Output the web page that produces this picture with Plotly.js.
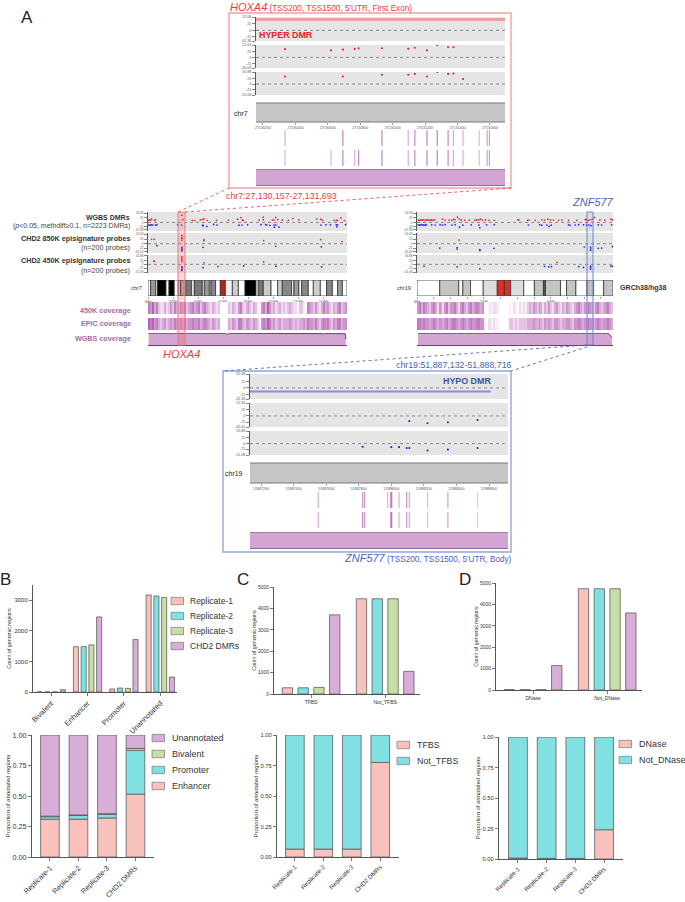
<!DOCTYPE html>
<html><head><meta charset="utf-8">
<script src="https://cdn.plot.ly/plotly-3.0.1.min.js"></script>
<style>html,body{margin:0;padding:0;background:#fff}</style></head>
<body><div id="chart" style="width:685px;height:902px"></div>
<script>
// ---- bar panel data ----
const replicates = ['Replicate-1','Replicate-2','Replicate-3','CHD2 DMRs'];
const bGroups = ['Bivalent','Enhancer','Promoter','Unannotated'];
const bCountR1 = [2,1480,100,3175];
const bCountR2 = [2,1485,130,3140];
const bCountR3 = [2,1540,120,3095];
const bCountCHD2 = [75,2455,1715,490];
const bEnhancer = [0.31,0.31,0.32,0.515];
const bPromoter = [0.02,0.03,0.03,0.36];
const bBivalent = [0.005,0.005,0.005,0.015];
const bUnannotated = [0.665,0.655,0.645,0.11];
const cGroups = ['TFBS','Not_TFBS'];
const cCountR1 = [290,4450];
const cCountR2 = [290,4450];
const cCountR3 = [310,4450];
const cCountCHD2 = [3700,1060];
const cTfbs = [0.065,0.065,0.065,0.775];
const cNotTfbs = [0.935,0.935,0.935,0.225];
const dGroups = ['DNase','Not_DNase'];
const dCountR1 = [20,4730];
const dCountR2 = [15,4730];
const dCountR3 = [15,4730];
const dCountCHD2 = [1140,3600];
const dDnase = [0.008,0.005,0.005,0.24];
const dNotDnase = [0.992,0.995,0.995,0.76];

// ---- genome-wide tracks (Mb, methylation difference) ----
const chr7WgbsRedPos = [0.3,1.3,2.1,2.9,5,6.1,26.9,27.7,35.4,37.5,41.8,43.7,44.7,47.4,54.8,64.2,71.6,74.3,75.4,76.2,88.7,92.1,92.2,99.3,100.6,102,103.6,107.3,112.1,115.8,120.6,134.7,137.9,139.3,148.6,150.4,151.5,154.2,156.8];
const chr7WgbsRedVal = [12,15,12,20,13,13,40,16,12,11,14,17,20,12,12,12,18,27,13,11,13,30,16,13,13,28,16,13,12,22,14,20,18,12,12,12,12,25,11];
const chr7WgbsBluePos = [0.8,1.8,2.9,4,6.1,7.2,23.7,26.9,43.7,44.2,47.1,52.4,55.1,72.7,75.1,79.6,90.3,94,95,97.4,100.6,100.9,102.2,104.6,138.2,142.2,145.7,150.4,150.9,151.5,157.9];
const chr7WgbsBlueVal = [-15,-15,-13,-14,-15,-12,-12,-14,-15,-19,-22,-11,-14,-15,-14,-13,-12,-12,-14,-16,-14,-26,-14,-26,-14,-13,-13,-13,-24,-13,-12];
const chr7P850RedPos = [2.9,5,27.1,27.1,27.1,27.1,44.7,44.7,92.4,137.9,155];
const chr7P850RedVal = [24,24,45,35,28,20,17,22,17,22,12];
const chr7P850BluePos = [7.2,27.1,27.1,27.1,27.1,43.9,102,138.5];
const chr7P850BlueVal = [-11,-20,-28,-33,-40,-20,-14,-17];
const chr7P450RedPos = [4.8,4.8,27.1,27.1,27.1,27.1,44.7,92.4];
const chr7P450RedVal = [24,19,50,40,30,19,10,17];
const chr7P450BluePos = [27.1,27.1,27.1,27.1,43.9,55.9,76.4,102.2,138.7];
const chr7P450BlueVal = [-17,-24,-33,-41,-22,-14,-10,-12,-17];

const chr19WgbsRedPos = [0.4,0.8,1.2,1.6,2,2.4,2.8,3.2,3.6,4,4.4,4.8,5.2,7.6,8.4,9.6,10.4,10.9,11.4,12.1,12.6,13.2,14.2,15.6,17.3,17.8,18.3,18.9,19.5,20.5,21.5,23.1,30.1,30.5,33.1,33.5,35.3,37.3,38.1,39.1,39.9,40.8,42.3,43.3,45.3,47.8,50.3,50.7,51.2,51.8,52.4,53,54.7,56.2,58,58.4];
const chr19WgbsRedVal = [13,12,14,13,15,12,13,16,12,14,13,12,15,18,12,13,12,17,15,30,20,14,12,13,12,14,15,18,13,14,12,12,16,13,12,13,12,15,13,18,14,13,12,13,12,12,17,14,12,15,18,28,14,13,18,14];
const chr19WgbsBluePos = [0.4,0.8,1.2,1.6,2,2.4,2.8,4.4,5.4,6.9,7.6,8.4,10.4,11.4,12.7,13.7,16.2,18.5,18.8,20.8,23.1,33.3,36.7,37.3,38.8,39.5,40.1,45.3,45.8,47.3,48.3,49.8,50.7,51.4,52,54.2,55.2,58.2];
const chr19WgbsBlueVal = [-13,-15,-12,-14,-13,-15,-12,-13,-14,-12,-14,-12,-14,-13,-26,-15,-13,-14,-30,-13,-12,-14,-13,-15,-14,-22,-15,-13,-16,-14,-12,-13,-15,-14,-18,-13,-14,-13];
const chr19P850RedPos = [12.6];
const chr19P850RedVal = [20];
const chr19P850BluePos = [6.8,12,12,18.8,18.8,23,50,51.9,51.9,51.9,54.2,55.2,58.4];
const chr19P850BlueVal = [-24,-22,-29,-33,-38,-25,-18,-20,-29,-36,-25,-24,-16];
const chr19P450RedPos = [41.8];
const chr19P450RedVal = [13];
const chr19P450BluePos = [2.1,12,18.8,38.1,39.4,40.2,48.4,49.8,51.9,51.9,51.9,58,58.4];
const chr19P450BlueVal = [-13,-15,-29,-13,-16,-15,-15,-20,-11,-22,-31,-11,-13];

// ---- ideograms ----
const chr7BandEdges = [0,2.1,6.1,7.5,14.4,16.8,21,24.2,26.1,30.1,34.9,37,43.4,45,49,50.3,54,57.8,61.8,67.4,72.2,77.5,86.3,88.1,92.1,98.3,103.6,107.3,114.8,116.6,120.6,122.8,128.1,132.1,137.7,142.7,147.3,151.5,155.3,159];
const chr7BandColors = ['#ffffff','#999999','#ffffff','#000000','#ffffff','#000000','#ffffff','#cccccc','#aaaaaa','#777777','#ffffff','#777777','#ffffff','#999999','#ffffff','#888888','#ffffff','#c0201a','#f0f0f0','#cccccc','#ffffff','#000000','#ffffff','#777777','#cccccc','#ffffff','#cccccc','#888888','#ffffff','#999999','#ffffff','#888888','#ffffff','#cccccc','#ffffff','#888888','#ffffff','#999999','#ffffff'];
const chr19BandEdges = [0,6.8,12.5,13.7,16,19.8,24,26.1,28,31.9,35.1,37.8,38.4,42.9,44.7,47.5,50.8,52.8,55.8,58.6];
const chr19BandColors = ['#ffffff','#c4c4c4','#ffffff','#c4c4c4','#ffffff','#dddddd','#d9302a','#d9302a','#dddddd','#ffffff','#c4c4c4','#555555','#c4c4c4','#ffffff','#c4c4c4','#ffffff','#c4c4c4','#ffffff','#c4c4c4'];
const chr7TickVals = [0,20,40,60,80,100,120,140];
const chr7TickText = ['0Mb','20Mb','40Mb','60Mb','80Mb','100Mb','120Mb','140Mb'];
const chr19TickVals = [0,5,10,15,20,25,30,35,40,45,50,55];
const chr19TickText = ['0Mb','','','','20Mb','','','','40Mb','','',''];

// ---- probe coverage per chromosome bin ----
const chr7Cov450 = [6,5,7,4,6,3,2,2,4,2,3,5,3,6,4,3,5,4,6,3,4,5,6,4,5,6,3,5,6,4,3,2,4,3,2,3,0,0,0,0,3,2,4,3,2,5,6,3,2,4,5,3,2,4,3,1,0,5,6,4,7,5,3,4,2,3,4,2,3,2,3,4,3,2,2,0,3,3,1,0,6,5,4,3,5,3,2,4,6,4,5,3,2,4,3,5,6,3,4,5];
const chr7CovEpic = [7,6,7,5,6,4,3,4,5,3,4,5,4,6,5,4,5,4,6,4,5,5,6,5,5,6,4,5,6,5,4,3,5,4,3,4,0,0,0,0,4,3,5,4,3,6,6,4,3,5,5,4,3,5,4,3,0,5,6,5,7,6,4,5,3,4,5,3,4,4,4,5,4,3,4,3,4,4,5,4,6,5,5,4,6,4,3,5,6,5,6,4,3,5,4,6,6,4,5,5];
const chr19Cov450 = [5,6,4,6,5,4,3,5,6,4,2,5,4,2,5,6,3,5,5,6,4,2,5,6,4,3,5,6,4,5,6,5,4,5,0,0,1,2,1,2,2,1,0,0,0,0,0,1,0,2,1,0,2,1,2,1,3,4,3,5,4,3,5,4,2,4,3,5,3,2,4,5,3,2,4,3,5,4,3,2,4,5,6,4,3,5,4,6,5,4,3,5,6,4,3,4,5,6,4,3];
const chr19CovEpic = [6,6,5,6,5,5,4,5,6,5,4,5,5,4,5,6,4,5,6,6,5,4,5,6,5,4,5,6,5,5,6,6,5,5,1,0,2,2,1,2,1,1,0,0,0,0,0,3,3,2,3,2,3,3,3,3,4,4,4,5,4,4,5,4,3,5,4,5,4,3,5,5,4,3,4,4,5,5,4,3,5,5,6,5,4,5,5,6,5,5,4,5,6,5,4,5,5,6,5,4];
const chr7WgbsCovPos = [0.5,62,63.5,65,139,140,141,157.6,158.1];
const chr7WgbsCovVal = [100,99,90,99,97,93,97,96,50];
const chr19WgbsCovPos = [0.3,24,25,26,57.1,58.3];
const chr19WgbsCovVal = [100,100,98,100,100,66];

// ---- zoomed HOXA4 region ----
const hoxaStart = 27130157, hoxaEnd = 27131693;
const hoxaTicks = [27130200,27130400,27130600,27130800,27131000,27131200,27131400,27131600];
const hoxaDmrVal = [42,42];
const hoxaP850Pos = [27130336,27130620,27130693,27130766,27130790,27130934,27131096,27131137,27131212,27131275,27131342,27131375];
const hoxaP850Val = [35,30,33,36,39,39,37,41,30,52,43,43];
const hoxaP450Pos = [27130336,27130693,27130934,27131096,27131137,27131212,27131275,27131342,27131375,27131434];
const hoxaP450Val = [35,35,43,43,47,35,56,47,49,23];
const hoxa450Probes = [27130336,27130693,27130934,27131096,27131137,27131212,27131275,27131342,27131375,27131434,27131534,27131583,27131597];
const hoxa450Shade = [0.6,0.9,0.9,0.6,0.9,0.9,0.9,0.9,0.6,0.6,0.5,0.7,0.7];
const hoxaEpicProbes = [27130336,27130620,27130693,27130766,27130790,27130934,27131096,27131137,27131212,27131275,27131342,27131375,27131434,27131534,27131583,27131597];
const hoxaEpicShade = [0.5,0.5,0.9,0.6,0.9,0.9,0.6,0.9,0.9,0.9,0.9,0.6,0.6,0.5,0.7,0.7];

// ---- zoomed ZNF577 region ----
const znfStart = 51887132, znfEnd = 51888716;
const znfTicks = [51887200,51887400,51887600,51887800,51888000,51888200,51888400,51888600];
const znfDmrPos = [51887132,51888611];
const znfDmrVal = [-13,-13];
const znfP850Pos = [51888110,51888222,51888347,51888529];
const znfP850Val = [-21,-30,-26,-17];
const znfP450Pos = [51887824,51888000,51888047,51888094,51888110,51888222,51888347,51888529];
const znfP450Val = [-14,-16,-16,-20,-20,-31,-27,-20];
const znf450Probes = [51887551,51887824,51887836,51887977,51887997,51888002,51888047,51888094,51888110,51888222,51888347,51888529];
const znf450Shade = [0.6,0.8,0.8,0.5,1,1,0.6,0.8,0.6,0.5,0.7,0.4];
const znfEpicProbes = [51887551,51887824,51887836,51887997,51888002,51888047,51888094,51888110,51888222,51888347,51888529];
const znfEpicShade = [0.6,0.9,0.8,1,1,0.6,0.8,0.6,0.5,0.7,0.4];

// ---- helpers ----
const W=685,H=902,FONT='"Liberation Sans", Arial, sans-serif';
const PINK='#f9c1bc',TEAL='#80e0e2',GREEN='#c9dea5',PURP='#d8aed8',EDGE='rgba(85,85,85,0.75)';
const RED='#e8202a',BLUE='#2222ee',HRED='#ee3a44',HBLUE='#4a62b0';
const data=[],shapes=[],annotations=[],layout={};
let n=0;
function panel(x0,y0,x1,y1,xopt,yopt){
  n++; const s=n===1?'':n;
  layout['xaxis'+s]=Object.assign({domain:[x0/W,x1/W],anchor:'y'+s,fixedrange:true,showgrid:false,zeroline:false},xopt);
  layout['yaxis'+s]=Object.assign({domain:[1-y1/H,1-y0/H],anchor:'x'+s,fixedrange:true,showgrid:false,zeroline:false},yopt);
  return {x:'x'+s,y:'y'+s};
}
function txt(x,y,text,size,color,anchor,extra){
  annotations.push(Object.assign({xref:'paper',yref:'paper',x:x/W,y:1-y/H,text,showarrow:false,xanchor:anchor||'left',yanchor:'middle',borderpad:0,font:{family:FONT,size,color:color||'#222'}},extra||{}));
}
function rectPx(x0,y0,x1,y1,line,fill,lw,layer){
  shapes.push({type:'rect',xref:'paper',yref:'paper',x0:x0/W,x1:x1/W,y0:1-y0/H,y1:1-y1/H,line:{color:line,width:lw===undefined?1:lw},fillcolor:fill||'rgba(0,0,0,0)',layer:layer||'above'});
}
function linePx(x0,y0,x1,y1,color,width,dash){
  shapes.push({type:'line',xref:'paper',yref:'paper',x0:x0/W,x1:x1/W,y0:1-y0/H,y1:1-y1/H,line:{color,width,dash:dash||'solid'}});
}
function track(box,xr,ymin,ymax,labels,series,pad,fs,ms){
  const p=pad||0;
  const a=panel(box[0],box[1],box[2],box[3],{visible:false,range:xr},
    {range:[ymin-p,ymax+p],tickmode:'array',tickvals:[ymax,25,0,-25,ymin],ticktext:labels,showline:true,linecolor:'#555',linewidth:1,ticks:'outside',ticklen:3,tickwidth:0.7,tickcolor:'#555',tickfont:{family:FONT,size:fs||3.6,color:'#555'}});
  shapes.push({type:'rect',xref:a.x+' domain',yref:a.y+' domain',x0:0,x1:1,y0:0,y1:1,fillcolor:'#e5e5e5',line:{width:0},layer:'below'});
  shapes.push({type:'line',xref:a.x+' domain',yref:a.y,x0:0,x1:1,y0:0,y1:0,line:{color:'#666',width:0.7,dash:'dot'},layer:'below'});
  series.forEach(s=>{
    if(s.line) data.push({type:'scatter',mode:'lines',name:s.name,x:s.x,y:s.y,xaxis:a.x,yaxis:a.y,line:{color:s.color,width:s.width},showlegend:false,hoverinfo:'skip'});
    else data.push({type:'scatter',mode:'markers',name:s.name,x:s.x,y:s.y,xaxis:a.x,yaxis:a.y,marker:{size:ms||2.1,color:s.color},showlegend:false,hoverinfo:'skip'});
  });
}
function ideogram(box,xr,edges,colors,tv,tt,lw){
  const a=panel(box[0],box[1],box[2],box[3],{range:xr,tickmode:'array',tickvals:tv,ticktext:tt,showline:false,ticks:'outside',ticklen:1.5,tickwidth:0.6,tickcolor:'#666',tickfont:{family:FONT,size:3.4,color:'#555'},tickangle:0},{visible:false,range:[0.5,1.5]});
  data.push({type:'bar',orientation:'h',name:'Ideogram',x:colors.map((c,i)=>edges[i+1]-edges[i]),y:colors.map(()=>1),base:edges.slice(0,-1),width:1,xaxis:a.x,yaxis:a.y,marker:{color:colors,line:{color:'#333',width:lw||1}},showlegend:false,hoverinfo:'skip'});
}
function strip(box,xr,vals,binSize,name){
  const a=panel(box[0],box[1],box[2],box[3],{visible:false,range:xr},{visible:false,range:[-0.5,0.5]});
  data.push({type:'heatmap',name,z:[vals],x0:binSize/2,dx:binSize,y:[0],xaxis:a.x,yaxis:a.y,zmin:0,zmax:8,showscale:false,hoverinfo:'skip',colorscale:[[0,'#ffffff'],[0.25,'#efdcef'],[0.5,'#d8aad8'],[0.75,'#c07ec0'],[1,'#a24ca2']]});
}
function covArea(box,xr,xs,ys,edge,lw){
  const a=panel(box[0],box[1],box[2],box[3],{range:xr,showline:true,linecolor:edge,linewidth:lw,ticks:'',showticklabels:false},{visible:false,range:[0,102]});
  data.push({type:'scatter',mode:'lines',name:'WGBS coverage',x:xs,y:ys,xaxis:a.x,yaxis:a.y,fill:'tozeroy',fillcolor:'#d3a5d3',line:{color:edge,width:lw},showlegend:false,hoverinfo:'skip'});
}
function probes(box,xr,pos,shade,name,w){
  const a=panel(box[0],box[1],box[2],box[3],{visible:false,range:xr},{visible:false,range:[0,1]});
  data.push({type:'bar',name,x:pos,y:pos.map(()=>1),width:w,xaxis:a.x,yaxis:a.y,marker:{color:'#b870b8',opacity:shade,line:{width:0}},showlegend:false,hoverinfo:'skip'});
}
function chrBand(box,xr,tv,name){
  const a=panel(box[0],box[1],box[2],box[3],{range:xr,tickmode:'array',tickvals:tv,ticktext:tv.map(String),showline:false,ticks:'outside',ticklen:2,tickwidth:0.6,tickcolor:'#666',tickfont:{family:FONT,size:3.6,color:'#555'},tickangle:0},{visible:false,range:[0.5,1.5]});
  data.push({type:'bar',orientation:'h',name,x:[xr[1]-xr[0]],y:[1],base:[xr[0]],width:1,xaxis:a.x,yaxis:a.y,marker:{color:'#c6c6c6',line:{width:0}},showlegend:false,hoverinfo:'skip'});
  shapes.push({type:'line',xref:a.x+' domain',yref:a.y+' domain',x0:0,x1:1,y0:1,y1:1,line:{color:'#777',width:1}});
  shapes.push({type:'line',xref:a.x+' domain',yref:a.y+' domain',x0:0,x1:1,y0:0,y1:0,line:{color:'#777',width:1}});
}
function axisStyle(range,tv,dec,fs,ttl,ttlSize,standoff){
  return {range,tickmode:'array',tickvals:tv,ticktext:tv.map(v=>v.toFixed(dec)),showline:true,linecolor:'#555',linewidth:1,ticks:'outside',ticklen:3,tickwidth:0.8,tickcolor:'#555',tickfont:{family:FONT,size:fs,color:'#333'},title:{text:ttl,font:{family:FONT,size:ttlSize,color:'#333'},standoff}};
}
function groupedBars(box,xr,cats,series,xfs,yOpts,angle){
  const a=panel(box[0],box[1],box[2],box[3],{type:'category',categoryorder:'array',categoryarray:cats,range:xr,showline:true,linecolor:'#555',linewidth:1,ticks:'outside',ticklen:3,tickwidth:0.8,tickcolor:'#555',tickfont:{family:FONT,size:xfs,color:'#333'},tickangle:angle},yOpts);
  const step=0.213,w=0.14;
  series.forEach((s,i)=>{
    data.push({type:'bar',name:s.name,x:cats,y:s.y,xaxis:a.x,yaxis:a.y,width:w,offset:(i-1.5)*step-w/2,marker:{color:s.color,line:{color:EDGE,width:1}},showlegend:false,hoverinfo:'skip'});
  });
}
function stackedBars(box,xr,cats,series,xfs,yOpts){
  const a=panel(box[0],box[1],box[2],box[3],{type:'category',categoryorder:'array',categoryarray:cats,range:xr,showline:true,linecolor:'#555',linewidth:1,ticks:'outside',ticklen:3,tickwidth:0.8,tickcolor:'#555',tickfont:{family:FONT,size:xfs,color:'#333'},tickangle:-45},yOpts);
  const cum=cats.map(()=>0);
  series.forEach(s=>{
    data.push({type:'bar',name:s.name,x:cats,y:s.y,base:cum.slice(),xaxis:a.x,yaxis:a.y,width:0.655,marker:{color:s.color,line:{color:EDGE,width:1}},showlegend:false,hoverinfo:'skip'});
    s.y.forEach((v,i)=>cum[i]+=v);
  });
}
function legendRow(x,y,color,label,fs,gap){
  rectPx(x,y-3.7,x+12.5,y+3.7,'rgba(120,120,120,0.7)',color,1);
  txt(x+12.5+(gap||6),y,label,fs,'#333');
}

// ---- A: genome views ----
const L1=['52.08','25','0','-25','-41.38'],L2=['52.63','25','0','-25','-45.03'],L3=['55.88','25','0','-25','-51.08'];
const chr7=[0,159],chr19=[0,58.6];
function genome(xa,xb,xr,sets,edges,colors,tv,tt,c450,cEpic,bin,covX,covY){
  track([xa,212,xb,231],xr,-41.38,52.08,L1,[{name:'Hyper DMRs',x:sets[0],y:sets[1],color:RED},{name:'Hypo DMRs',x:sets[2],y:sets[3],color:BLUE}],6,3,1.7);
  track([xa,233,xb,253],xr,-45.03,52.63,L2,[{name:'850K hyper',x:sets[4],y:sets[5],color:RED},{name:'850K hypo',x:sets[6],y:sets[7],color:BLUE}],6,3,1.7);
  track([xa,255,xb,273],xr,-51.08,55.88,L3,[{name:'450K hyper',x:sets[8],y:sets[9],color:RED},{name:'450K hypo',x:sets[10],y:sets[11],color:BLUE}],6,3,1.7);
  ideogram([xa,280,xb,296],xr,edges,colors,tv,tt,0.8);
  strip([xa,302,xb,314],xr,c450,bin,'450K coverage');
  strip([xa,318,xb,330],xr,cEpic,bin,'EPIC coverage');
  covArea([xa,333,xb,345],xr,covX,covY,'#6e3a78',1);
}
genome(148,347,chr7,[chr7WgbsRedPos,chr7WgbsRedVal,chr7WgbsBluePos,chr7WgbsBlueVal,chr7P850RedPos,chr7P850RedVal,chr7P850BluePos,chr7P850BlueVal,chr7P450RedPos,chr7P450RedVal,chr7P450BluePos,chr7P450BlueVal],chr7BandEdges,chr7BandColors,chr7TickVals,chr7TickText,chr7Cov450,chr7CovEpic,1.59,chr7WgbsCovPos,chr7WgbsCovVal);
genome(417,613,chr19,[chr19WgbsRedPos,chr19WgbsRedVal,chr19WgbsBluePos,chr19WgbsBlueVal,chr19P850RedPos,chr19P850RedVal,chr19P850BluePos,chr19P850BlueVal,chr19P450RedPos,chr19P450RedVal,chr19P450BluePos,chr19P450BlueVal],chr19BandEdges,chr19BandColors,chr19TickVals,chr19TickText,chr19Cov450,chr19CovEpic,0.586,chr19WgbsCovPos,chr19WgbsCovVal);

// zoomed HOXA4
const hx=[hoxaStart,hoxaEnd];
track([256,17,505,41],hx,-41.38,52.08,L1,[{name:'HOXA4 hyper DMR',x:hx,y:hoxaDmrVal,color:'#e8a2a2',width:3,line:true}]);
track([256,45,505,68],hx,-45.03,52.63,L2,[{name:'HOXA4 850K',x:hoxaP850Pos,y:hoxaP850Val,color:RED}]);
track([256,72,505,95],hx,-51.08,55.88,L3,[{name:'HOXA4 450K',x:hoxaP450Pos,y:hoxaP450Val,color:RED}]);
chrBand([256,103,505,122],hx,hoxaTicks,'chr7');
probes([256,130,505,146],hx,hoxa450Probes,hoxa450Shade,'HOXA4 450K probes',7);
probes([256,150,505,166],hx,hoxaEpicProbes,hoxaEpicShade,'HOXA4 EPIC probes',7);
covArea([256,169,505,185],hx,hx,[100,100],'#946c94',1);
// zoomed ZNF577
const zx=[znfStart,znfEnd];
track([250,374,508,399],zx,-41.38,52.08,L1,[{name:'ZNF577 hypo DMR',x:znfDmrPos,y:znfDmrVal,color:'#8c8ce8',width:2,line:true}]);
track([250,403,508,427],zx,-45.03,52.63,L2,[{name:'ZNF577 850K',x:znfP850Pos,y:znfP850Val,color:BLUE}]);
track([250,431,508,455],zx,-51.08,55.88,L3,[{name:'ZNF577 450K',x:znfP450Pos,y:znfP450Val,color:BLUE}]);
chrBand([250,463,508,483],zx,znfTicks,'chr19');
probes([250,492,508,508],zx,znf450Probes,znf450Shade,'ZNF577 450K probes',7);
probes([250,512,508,528],zx,znfEpicProbes,znfEpicShade,'ZNF577 EPIC probes',7);
covArea([250,532,508,548],zx,zx,[100,100],'#946c94',1);

// connectors and boxes
rectPx(229,13,511,188,'#f4a0a4','rgba(0,0,0,0)',1.4);
rectPx(223,371,511,552,'#93a7dc','rgba(0,0,0,0)',1.4);
rectPx(178,212,185,345,'#ee7a80','rgba(240,70,80,0.2)',1);
rectPx(587,212,593,345,'#6f85c8','rgba(90,120,200,0.07)',1);
linePx(178,212,229,188,'#ee4a55',0.9,'dot');
linePx(185,212,511,188,'#ee4a55',0.9,'dot');
linePx(587,345,223,371,'#4d69b5',0.9,'dot');
linePx(593,345,511,371,'#4d69b5',0.9,'dot');

// labels, panel A
txt(20,18,'A',17,'#222');
txt(229,7,'<i>HOXA4</i><span style="font-size:8.2px"> (TSS200, TSS1500, 5\'UTR, First Exon)</span>',11,HRED);
txt(258,35,'<b>HYPER DMR</b>',8.9,RED);
txt(249,114,'chr7',7,'#222','right');
txt(225,196,'chr7:27,130,157-27,131,693',8.8,HRED);
txt(395,365,'chr19:51,887,132-51,888,716',8.8,HBLUE);
txt(492,381,'<b>HYPO DMR</b>',8.9,'#3a55a5','right');
txt(244,473,'chr19',7,'#222','right');
txt(343,558,'<i>ZNF577</i><span style="font-size:8.2px"> (TSS200, TSS1500, 5\'UTR, Body)</span>',11,HBLUE);
txt(162,354,'<i>HOXA4</i>',11,HRED);
txt(571,202,'<i>ZNF577</i>',11,HBLUE);
txt(131,217,'<b>WGBS DMRs</b>',7,'#333','right');
txt(131,226,'(<i>p</i>&lt;0.05, methdiff≥0.1, n=2223 DMRs)',7,'#444','right');
txt(131,239,'<b>CHD2 850K episignature probes</b>',7.2,'#333','right');
txt(131,248,'(n=200 probes)',7.2,'#444','right');
txt(131,261,'<b>CHD2 450K episignature probes</b>',7.2,'#333','right');
txt(131,270,'(n=200 probes)',7.2,'#444','right');
txt(143,288,'chr7',5.5,'#333','right');
txt(412,288,'chr19',5.5,'#333','right');
txt(619,288,'<b>GRCh38/hg38</b>',7.1,'#333');
txt(132,310,'<b>450K coverage</b>',7.2,'#a868a8','right');
txt(132,324,'<b>EPIC coverage</b>',7.2,'#a868a8','right');
txt(132,338,'<b>WGBS coverage</b>',7.2,'#a868a8','right');

// ---- B ----
groupedBars([33,585,177,692],[-0.5,3.46],bGroups,[{name:'Replicate-1',y:bCountR1,color:PINK},{name:'Replicate-2',y:bCountR2,color:TEAL},{name:'Replicate-3',y:bCountR3,color:GREEN},{name:'CHD2 DMRs',y:bCountCHD2,color:PURP}],7.5,axisStyle([0,3500],[0,1000,2000,3000],0,6,'Count of genomic regions',5.3,2),-45);
stackedBars([32,735,154,857],[-0.63,3.65],replicates,[{name:'Enhancer',y:bEnhancer,color:PINK},{name:'Promoter',y:bPromoter,color:TEAL},{name:'Bivalent',y:bBivalent,color:GREEN},{name:'Unannotated',y:bUnannotated,color:PURP}],7.2,axisStyle([0,1],[0,0.25,0.5,0.75,1],2,7.2,'Proportion of annotated regions',5.9,1));
txt(-1,579,'B',17,'#222');
[['Replicate-1',PINK,601],['Replicate-2',TEAL,616],['Replicate-3',GREEN,631],['CHD2 DMRs',PURP,646]].forEach(r=>legendRow(171,r[2],r[1],r[0],8.5));
[['Unannotated',PURP,738],['Bivalent',GREEN,754],['Promoter',TEAL,770],['Enhancer',PINK,786]].forEach(r=>legendRow(152,r[2],r[1],r[0],9));

// ---- C ----
groupedBars([274,587,420,694],[-0.5,1.47],cGroups,[{name:'Replicate-1',y:cCountR1,color:PINK},{name:'Replicate-2',y:cCountR2,color:TEAL},{name:'Replicate-3',y:cCountR3,color:GREEN},{name:'CHD2 DMRs',y:cCountCHD2,color:PURP}],5,axisStyle([0,5000],[0,1000,2000,3000,4000,5000],0,5,'Count of genomic regions',5.3,1),0);
stackedBars([277,735,399,857],[-0.63,3.66],replicates,[{name:'TFBS',y:cTfbs,color:PINK},{name:'Not_TFBS',y:cNotTfbs,color:TEAL}],6.2,axisStyle([0,1],[0,0.25,0.5,0.75,1],2,5.8,'Proportion of annotated regions',5.9,1));
txt(236,579,'C',17,'#222');
[['TFBS',PINK,745],['Not_TFBS',TEAL,761]].forEach(r=>legendRow(397,r[2],r[1],r[0],8.9));

// ---- D ----
groupedBars([496,583,642,690],[-0.5,1.47],dGroups,[{name:'Replicate-1',y:dCountR1,color:PINK},{name:'Replicate-2',y:dCountR2,color:TEAL},{name:'Replicate-3',y:dCountR3,color:GREEN},{name:'CHD2 DMRs',y:dCountCHD2,color:PURP}],5,axisStyle([0,5000],[0,1000,2000,3000,4000,5000],0,5,'Count of genomic regions',5.3,1),0);
stackedBars([499,737,623,859],[-0.66,3.66],replicates,[{name:'DNase',y:dDnase,color:PINK},{name:'Not_DNase',y:dNotDnase,color:TEAL}],6.2,axisStyle([0,1],[0,0.25,0.5,0.75,1],2,5.8,'Proportion of annotated regions',5.9,1));
txt(458,579,'D',17,'#222');
[['DNase',PINK,744],['Not_DNase',TEAL,760]].forEach(r=>legendRow(619,r[2],r[1],r[0],9));

Object.assign(layout,{width:W,height:H,margin:{l:0,r:0,t:0,b:0},paper_bgcolor:'#fff',plot_bgcolor:'rgba(0,0,0,0)',barmode:'overlay',showlegend:false,font:{family:FONT},shapes,annotations});
Plotly.newPlot('chart',data,layout,{displayModeBar:false,staticPlot:true});
</script></body></html>
